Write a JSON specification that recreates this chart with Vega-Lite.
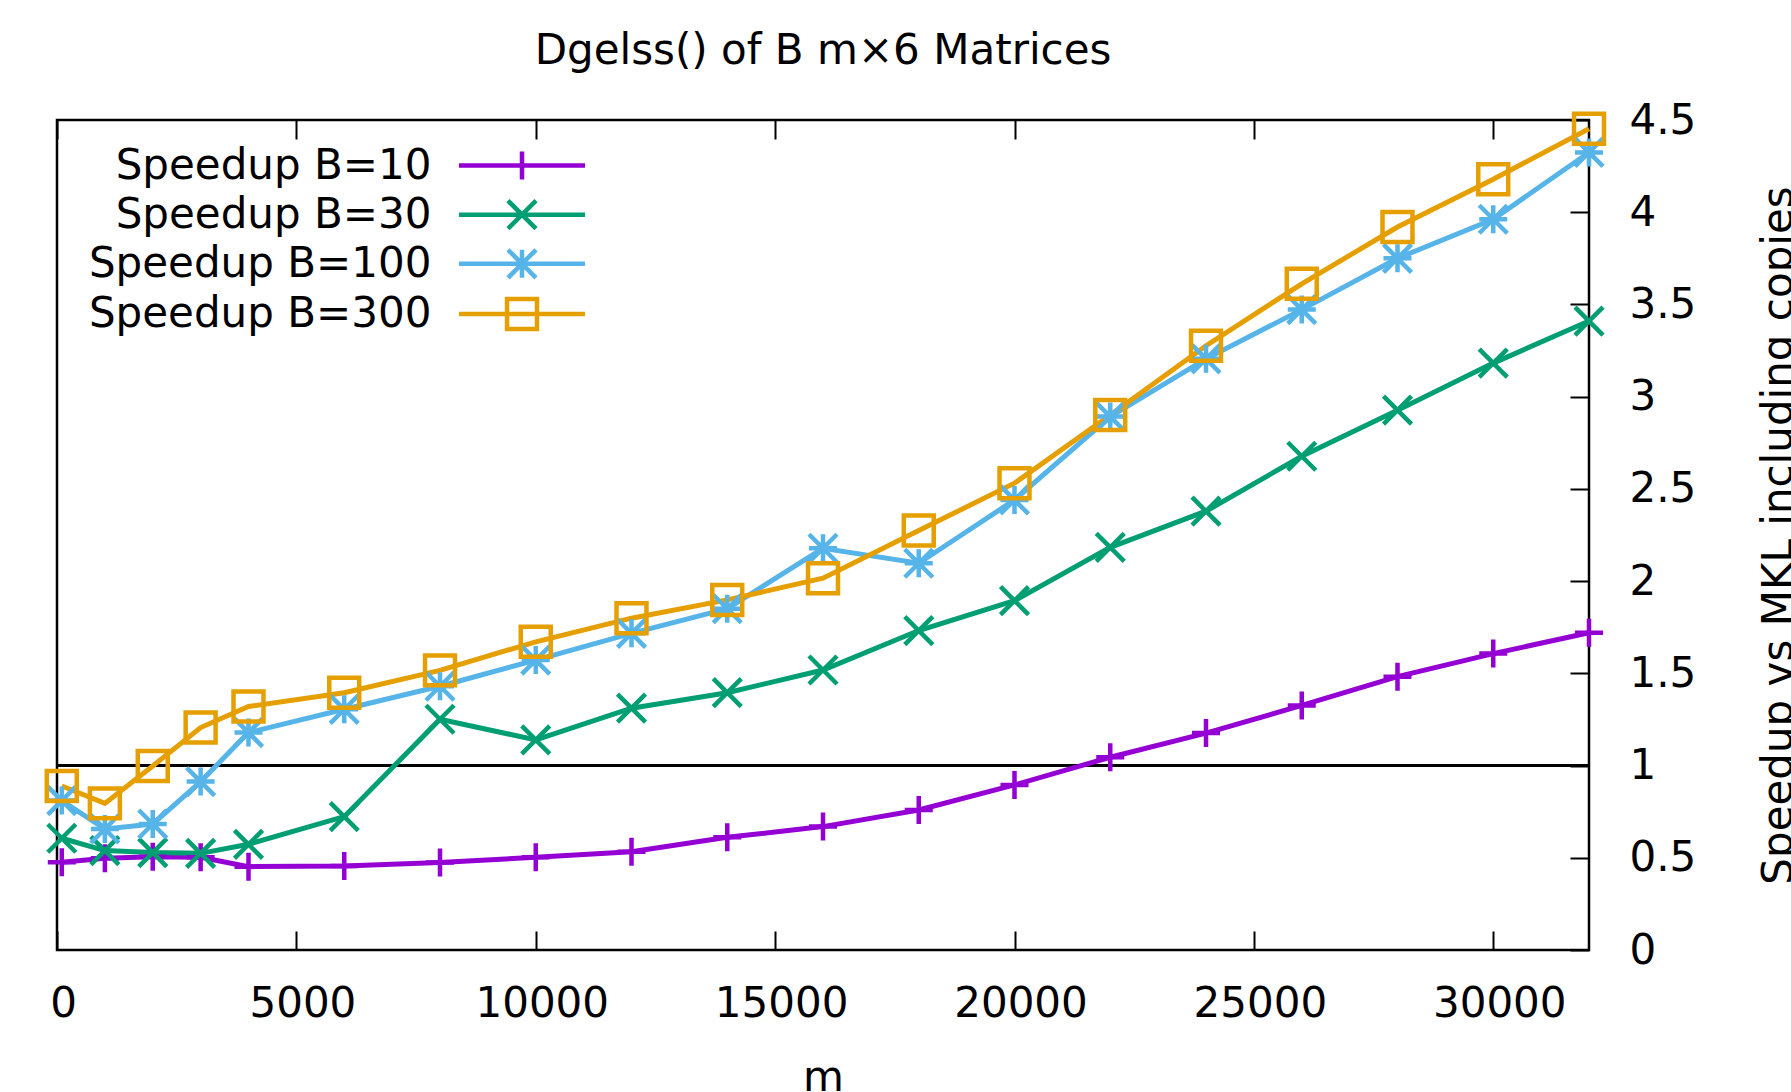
{
  "$schema": "https://vega.github.io/schema/vega-lite/v6.json",
  "width": 1532,
  "height": 830,
  "autosize": {"type": "none"},
  "padding": {"left": 57, "top": 120, "right": 202, "bottom": 142},
  "background": "white",
  "config": {
    "font": "DejaVu Sans",
    "view": {"stroke": "black", "strokeWidth": 2.5},
    "axis": {"grid": false, "domain": false, "labelColor": "black", "titleColor": "black", "tickColor": "black", "tickWidth": 2, "labelFont": "DejaVu Sans", "titleFont": "DejaVu Sans"}
  },
  "title": {"text": "Dgelss() of B m×6 Matrices", "fontSize": 42, "fontWeight": "normal", "font": "DejaVu Sans", "color": "black", "anchor": "middle", "baseline": "alphabetic", "offset": -6.6},
  "data": {"values": [
    {"m": 100, "series": "Speedup B=10", "speedup": 0.476},
    {"m": 1000, "series": "Speedup B=10", "speedup": 0.497},
    {"m": 2000, "series": "Speedup B=10", "speedup": 0.506},
    {"m": 3000, "series": "Speedup B=10", "speedup": 0.503},
    {"m": 4000, "series": "Speedup B=10", "speedup": 0.452},
    {"m": 6000, "series": "Speedup B=10", "speedup": 0.456},
    {"m": 8000, "series": "Speedup B=10", "speedup": 0.474},
    {"m": 10000, "series": "Speedup B=10", "speedup": 0.503},
    {"m": 12000, "series": "Speedup B=10", "speedup": 0.533},
    {"m": 14000, "series": "Speedup B=10", "speedup": 0.611},
    {"m": 16000, "series": "Speedup B=10", "speedup": 0.669},
    {"m": 18000, "series": "Speedup B=10", "speedup": 0.759},
    {"m": 20000, "series": "Speedup B=10", "speedup": 0.895},
    {"m": 22000, "series": "Speedup B=10", "speedup": 1.045},
    {"m": 24000, "series": "Speedup B=10", "speedup": 1.176},
    {"m": 26000, "series": "Speedup B=10", "speedup": 1.326},
    {"m": 28000, "series": "Speedup B=10", "speedup": 1.482},
    {"m": 30000, "series": "Speedup B=10", "speedup": 1.607},
    {"m": 32000, "series": "Speedup B=10", "speedup": 1.72},
    {"m": 100, "series": "Speedup B=30", "speedup": 0.606},
    {"m": 1000, "series": "Speedup B=30", "speedup": 0.539},
    {"m": 2000, "series": "Speedup B=30", "speedup": 0.528},
    {"m": 3000, "series": "Speedup B=30", "speedup": 0.524},
    {"m": 4000, "series": "Speedup B=30", "speedup": 0.573},
    {"m": 6000, "series": "Speedup B=30", "speedup": 0.723},
    {"m": 8000, "series": "Speedup B=30", "speedup": 1.251},
    {"m": 10000, "series": "Speedup B=30", "speedup": 1.139},
    {"m": 12000, "series": "Speedup B=30", "speedup": 1.311},
    {"m": 14000, "series": "Speedup B=30", "speedup": 1.395},
    {"m": 16000, "series": "Speedup B=30", "speedup": 1.518},
    {"m": 18000, "series": "Speedup B=30", "speedup": 1.732},
    {"m": 20000, "series": "Speedup B=30", "speedup": 1.894},
    {"m": 22000, "series": "Speedup B=30", "speedup": 2.183},
    {"m": 24000, "series": "Speedup B=30", "speedup": 2.379},
    {"m": 26000, "series": "Speedup B=30", "speedup": 2.677},
    {"m": 28000, "series": "Speedup B=30", "speedup": 2.927},
    {"m": 30000, "series": "Speedup B=30", "speedup": 3.182},
    {"m": 32000, "series": "Speedup B=30", "speedup": 3.41},
    {"m": 100, "series": "Speedup B=100", "speedup": 0.81},
    {"m": 1000, "series": "Speedup B=100", "speedup": 0.656},
    {"m": 2000, "series": "Speedup B=100", "speedup": 0.683},
    {"m": 3000, "series": "Speedup B=100", "speedup": 0.913},
    {"m": 4000, "series": "Speedup B=100", "speedup": 1.179},
    {"m": 6000, "series": "Speedup B=100", "speedup": 1.305},
    {"m": 8000, "series": "Speedup B=100", "speedup": 1.43},
    {"m": 10000, "series": "Speedup B=100", "speedup": 1.572},
    {"m": 12000, "series": "Speedup B=100", "speedup": 1.717},
    {"m": 14000, "series": "Speedup B=100", "speedup": 1.85},
    {"m": 16000, "series": "Speedup B=100", "speedup": 2.178},
    {"m": 18000, "series": "Speedup B=100", "speedup": 2.097},
    {"m": 20000, "series": "Speedup B=100", "speedup": 2.44},
    {"m": 22000, "series": "Speedup B=100", "speedup": 2.892},
    {"m": 24000, "series": "Speedup B=100", "speedup": 3.205},
    {"m": 26000, "series": "Speedup B=100", "speedup": 3.472},
    {"m": 28000, "series": "Speedup B=100", "speedup": 3.75},
    {"m": 30000, "series": "Speedup B=100", "speedup": 3.962},
    {"m": 32000, "series": "Speedup B=100", "speedup": 4.324},
    {"m": 100, "series": "Speedup B=300", "speedup": 0.889},
    {"m": 1000, "series": "Speedup B=300", "speedup": 0.795},
    {"m": 2000, "series": "Speedup B=300", "speedup": 0.998},
    {"m": 3000, "series": "Speedup B=300", "speedup": 1.206},
    {"m": 4000, "series": "Speedup B=300", "speedup": 1.32},
    {"m": 6000, "series": "Speedup B=300", "speedup": 1.395},
    {"m": 8000, "series": "Speedup B=300", "speedup": 1.516},
    {"m": 10000, "series": "Speedup B=300", "speedup": 1.671},
    {"m": 12000, "series": "Speedup B=300", "speedup": 1.799},
    {"m": 14000, "series": "Speedup B=300", "speedup": 1.898},
    {"m": 16000, "series": "Speedup B=300", "speedup": 2.016},
    {"m": 18000, "series": "Speedup B=300", "speedup": 2.274},
    {"m": 20000, "series": "Speedup B=300", "speedup": 2.531},
    {"m": 22000, "series": "Speedup B=300", "speedup": 2.901},
    {"m": 24000, "series": "Speedup B=300", "speedup": 3.276},
    {"m": 26000, "series": "Speedup B=300", "speedup": 3.612},
    {"m": 28000, "series": "Speedup B=300", "speedup": 3.92},
    {"m": 30000, "series": "Speedup B=300", "speedup": 4.179},
    {"m": 32000, "series": "Speedup B=300", "speedup": 4.453}
  ]},
  "layer": [
    {
      "mark": {"type": "rule", "color": "black", "strokeWidth": 1.8},
      "encoding": {
        "y": {"datum": 1, "type": "quantitative", "scale": {"domain": [0, 4.5], "nice": false, "zero": true}}
      }
    },
    {
      "mark": {"type": "point", "filled": false, "strokeWidth": 4.5, "size": 784, "opacity": 0},
      "encoding": {
        "color": {"field": "series", "type": "nominal",
          "scale": {"domain": ["Speedup B=10", "Speedup B=30", "Speedup B=100", "Speedup B=300"], "range": ["#9400d3", "#009e73", "#56b4e9", "#e69f00"]},
          "legend": {"title": null, "orient": "none", "legendX": 444, "legendY": 24.6, "padding": 0, "labelAlign": "right", "labelOffset": -111.6, "symbolOffset": 0, "labelFontSize": 42, "labelFont": "DejaVu Sans", "labelColor": "black", "labelLimit": 1000, "rowPadding": 3.1, "symbolSize": 784, "symbolStrokeWidth": 4.5, "symbolOpacity": 1}},
        "shape": {"field": "series", "type": "nominal",
          "scale": {"domain": ["Speedup B=10", "Speedup B=30", "Speedup B=100", "Speedup B=300"], "range": ["M-4.5,0L4.5,0M0,-1L0,1", "M-4.5,0L4.5,0M-1,-1L1,1M-1,1L1,-1", "M-4.5,0L4.5,0M0,-1L0,1M-1,-1L1,1M-1,1L1,-1", "M-4.5,0L4.5,0M-1.07,-1.07L1.07,-1.07L1.07,1.07L-1.07,1.07Z"]},
          "legend": {"title": null, "orient": "none", "legendX": 444, "legendY": 24.6, "padding": 0, "labelAlign": "right", "labelOffset": -111.6, "symbolOffset": 0, "labelFontSize": 42, "labelFont": "DejaVu Sans", "labelColor": "black", "labelLimit": 1000, "rowPadding": 3.1, "symbolSize": 784, "symbolStrokeWidth": 4.5, "symbolOpacity": 1}}
      }
    },
    {
      "mark": {"type": "line", "strokeWidth": 5, "clip": false},
      "encoding": {
        "x": {"field": "m", "type": "quantitative", "scale": {"domain": [0, 32000], "nice": false, "zero": false},
          "axis": {"orient": "bottom", "values": [0, 5000, 10000, 15000, 20000, 25000, 30000], "format": "d", "labelFontSize": 42, "tickSize": -19, "labelPadding": 52.8, "labelOffset": 6, "labelFlush": false, "title": "m", "titleFontSize": 42, "titleFontWeight": "normal", "titlePadding": 33}},
        "y": {"field": "speedup", "type": "quantitative", "scale": {"domain": [0, 4.5], "nice": false, "zero": true},
          "axis": {"orient": "right", "values": [0, 0.5, 1, 1.5, 2, 2.5, 3, 3.5, 4, 4.5], "format": "~g", "labelFontSize": 42, "tickSize": -19, "labelPadding": 59, "labelAlign": "left", "labelFlush": false, "title": "Speedup vs MKL including copies", "titleFontSize": 42, "titleFontWeight": "normal", "titleAngle": 270, "titleBaseline": "top", "titlePadding": 63}},
        "color": {"field": "series", "type": "nominal", "legend": null}
      }
    },
    {
      "mark": {"type": "point", "filled": false, "strokeWidth": 4.5, "size": 784, "opacity": 1, "clip": false},
      "encoding": {
        "x": {"field": "m", "type": "quantitative", "scale": {"domain": [0, 32000], "nice": false, "zero": false},
          "axis": {"orient": "top", "values": [0, 5000, 10000, 15000, 20000, 25000, 30000], "labels": false, "tickSize": -19, "title": null}},
        "y": {"field": "speedup", "type": "quantitative"},
        "color": {"field": "series", "type": "nominal", "legend": null},
        "shape": {
          "condition": [
            {"test": "datum.series === 'Speedup B=10'", "value": "M-1,0L1,0M0,-1L0,1"},
            {"test": "datum.series === 'Speedup B=30'", "value": "M-1,-1L1,1M-1,1L1,-1"},
            {"test": "datum.series === 'Speedup B=100'", "value": "M-1,0L1,0M0,-1L0,1M-1,-1L1,1M-1,1L1,-1"}
          ],
          "value": "M-1.07,-1.07L1.07,-1.07L1.07,1.07L-1.07,1.07Z"
        }
      }
    }
  ],
  "resolve": {"axis": {"x": "independent"}}
}
